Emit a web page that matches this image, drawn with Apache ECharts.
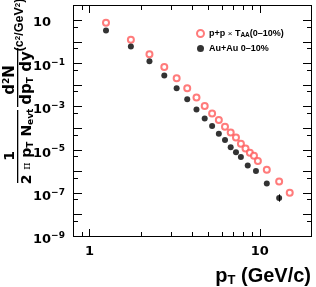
<!DOCTYPE html>
<html><head><meta charset="utf-8">
<script src="https://cdn.jsdelivr.net/npm/echarts@6/dist/echarts.min.js"></script>
<style>html,body{margin:0;padding:0;background:#fff}#c{width:316px;height:287px}</style>
</head><body><div id="c"></div>
<script>
// ---- data ----
const ppPt  = [1.25,1.75,2.25,2.75,3.25,3.75,4.25,4.75,5.25,5.75,6.25,6.75,7.25,7.75,8.25,8.75,9.25,9.75,11,13,15];
const ppVal = [7.5,1.22,0.261,0.068,0.020,6.97e-3,2.58e-3,1.04e-3,4.69e-4,2.34e-4,1.14e-4,6.19e-5,3.63e-5,1.87e-5,1.12e-5,7.11e-6,5.16e-6,2.97e-6,1.17e-6,3.33e-7,1.01e-7];
const auPt  = [1.25,1.75,2.25,2.75,3.25,3.75,4.25,4.75,5.25,5.75,6.25,6.75,7.25,7.75,8.5,9.5,11,13];
const auVal = [3.33,0.606,0.124,0.0275,6.89e-3,2.15e-3,7.18e-4,2.75e-4,1.24e-4,5.45e-5,2.78e-5,1.29e-5,7.5e-6,4.54e-6,1.84e-6,1.02e-6,2.7e-7,5.74e-8];
const auErrLow  = [null,null,null,null,null,null,null,null,null,null,null,null,null,null,null,null,null,3.9e-8];
const auErrHigh = [null,null,null,null,null,null,null,null,null,null,null,null,null,null,null,null,null,8.5e-8];
const xRange = [0.8, 20];
const yRange = [1e-9, 50];
const xMajorTicks = [1,10];
const xMinorTicks = [0.9,2,3,4,5,6,7,8,9];
const yMajorTicks = [1e-9,1e-8,1e-7,1e-6,1e-5,1e-4,1e-3,1e-2,1e-1,1,10];
const yMinorTicks = [5e-9,5e-8,5e-7,5e-6,5e-5,5e-4,5e-3,5e-2,0.5,5];
const xLabelTicks = [1,10];
const yLabelTicks = [1e-9,1e-7,1e-5,1e-3,1e-1,10];

const FONT = 'Liberation Sans, Arial, Helvetica, sans-serif';
const WFONT = 'DejaVu Sans, sans-serif';
const chart = echarts.init(document.getElementById('c'), null, {renderer:'canvas'});

const px = v => Math.round(v) + 0.5;

const option = {
  animation:false,
  backgroundColor:'#fff',
  grid:{left:73, top:5, right:5, bottom:51, containLabel:false},
  xAxis:{type:'log', logBase:10, min:xRange[0], max:xRange[1],
    axisLine:{show:false}, axisTick:{show:false}, splitLine:{show:false}, minorTick:{show:false},
    axisLabel:{show:true, customValues:xLabelTicks, margin:9, color:'#000', fontFamily:WFONT, fontWeight:'bold', fontSize:13,
      formatter: v => String(Math.round(v))} },
  yAxis:{type:'log', logBase:10, min:yRange[0], max:yRange[1],
    axisLine:{show:false}, axisTick:{show:false}, splitLine:{show:false}, minorTick:{show:false},
    axisLabel:{show:true, customValues:yLabelTicks, margin:40, align:'left', verticalAlign:'middle', color:'#000',
      padding:[5,0,0,0],
      formatter: v => { const e = Math.round(Math.log10(v)); return e===1 ? '{m|10}' : '{mp|10}{s|\u2212'+(-e)+'}'; },
      rich:{ m:{fontFamily:WFONT, fontWeight:'bold', fontSize:13, lineHeight:15},
             mp:{fontFamily:WFONT, fontWeight:'bold', fontSize:13, lineHeight:15, padding:[4,0,0,0], verticalAlign:'bottom'},
             s:{fontFamily:WFONT, fontWeight:'bold', fontSize:9, lineHeight:9, verticalAlign:'top'} } } },
  legend:{ orient:'vertical', left:196, top:29, padding:0, itemWidth:7, itemHeight:7, itemGap:5,
    data:[{name:'pp', icon:'emptyCircle'},{name:'auau', icon:'circle'}],
    formatter: n => n==='pp' ? '{b|p+p }{x|\u00d7}{b| T}{s|AA}{b|(0\u201310%)}' : '{b|Au+Au 0\u201310%}',
    textStyle:{ rich:{ b:{fontFamily:FONT, fontWeight:'bold', fontSize:9, color:'#000'},
                       x:{fontFamily:FONT, fontSize:8, color:'#000'},
                       s:{fontFamily:FONT, fontWeight:'bold', fontSize:6.5, color:'#000', verticalAlign:'bottom', padding:[4,0,0,0]} } } },
  series:[
    { name:'pp', type:'scatter', symbol:'emptyCircle', symbolSize:6,
      itemStyle:{color:'#ff5a5a', borderColor:'#ff5a5a', borderWidth:1},
      data: ppPt.map((x,i)=>[x, ppVal[i]]) },
    { name:'auau-err', type:'custom', silent:true,
      data: auPt.map((x,i)=>[x, auErrLow[i], auErrHigh[i]]).filter(d=>d[1]!=null),
      renderItem:(params, api)=>{
        const lo = api.coord([api.value(0), api.value(1)]);
        const hi = api.coord([api.value(0), api.value(2)]);
        return {type:'line', shape:{x1:px(lo[0]), y1:lo[1], x2:px(hi[0]), y2:hi[1]}, style:{stroke:'#000', lineWidth:1}};
      } },
    { name:'auau', type:'scatter', symbol:'circle', symbolSize:6,
      itemStyle:{color:'#000'},
      data: auPt.map((x,i)=>[x, auVal[i]]) }
  ]
};
chart.setOption(option);

// frame and axis ticks (thin filled rects), placed through the chart's own log scales
const els = [];
const c00 = chart.convertToPixel({gridIndex:0}, [xRange[0], yRange[0]]);
const c11 = chart.convertToPixel({gridIndex:0}, [xRange[1], yRange[1]]);
const L = Math.round(c00[0]), B = Math.round(c00[1]), R = Math.round(c11[0]), T = Math.round(c11[1]);
const bar = (x, y, w, h) => ({type:'rect', silent:true, z:20, shape:{x:x, y:y, width:w, height:h}, style:{fill:'#000'}});
els.push(bar(L, T, R-L+1, 1), bar(L, B, R-L+1, 1), bar(L, T, 1, B-T+1), bar(R, T, 1, B-T+1));
function addXTicks(vals, len){
  vals.forEach(v => {
    const x = Math.round(chart.convertToPixel({gridIndex:0}, [v, yRange[0]])[0]);
    els.push(bar(x, B-len, 1, len), bar(x, T+1, 1, len));
  });
}
function addYTicks(vals, len){
  vals.forEach(v => {
    const y = Math.round(chart.convertToPixel({gridIndex:0}, [xRange[0], v])[1]);
    els.push(bar(L+1, y, len, 1), bar(R-len, y, len, 1));
  });
}
addXTicks(xMajorTicks, 7); addXTicks(xMinorTicks, 4);
addYTicks(yMajorTicks, 8); addYTicks(yMinorTicks, 4);

// titles
els.push({ type:'text', right:5, bottom:0,
      style:{ text:'{p|p}{t|T}{p| (GeV/c)}', rich:{ p:{fontFamily:FONT, fontWeight:'bold', fontSize:20, fill:'#000'},
              t:{fontFamily:FONT, fontWeight:'bold', fontSize:13, fill:'#000', verticalAlign:'bottom', padding:[8,0,0,0]} } } });
els.push({ type:'group', x:0, y:190, rotation:Math.PI/2, children:[
      { type:'text', x:34, y:10, style:{ text:'1', fontFamily:WFONT, fontWeight:'bold', fontSize:14, fill:'#000', align:'center', verticalAlign:'middle'} },
      { type:'rect', shape:{x:7, y:17, width:73, height:1.3}, style:{fill:'#000'} },
      { type:'text', x:43.5, y:27.5, style:{ text:'{b|2 }{g|\u03c0}{b| p}{t|T}{b| N}{t|evt}', align:'center', verticalAlign:'middle',
          rich:{ b:{fontFamily:WFONT, fontWeight:'bold', fontSize:14, fill:'#000'},
                 g:{fontFamily:'DejaVu Serif, serif', fontSize:11, fill:'#000'},
                 t:{fontFamily:WFONT, fontWeight:'bold', fontSize:9, fill:'#000', verticalAlign:'bottom', padding:[6,0,0,0]} } } },
      { type:'text', x:110, y:10, style:{ text:'{b|d}{u|2}{b|N}', align:'center', verticalAlign:'middle',
          rich:{ b:{fontFamily:WFONT, fontWeight:'bold', fontSize:15, fill:'#000'},
                 u:{fontFamily:WFONT, fontWeight:'bold', fontSize:9, fill:'#000', verticalAlign:'top', padding:[0,0,6,0]} } } },
      { type:'rect', shape:{x:83, y:17, width:59, height:1.3}, style:{fill:'#000'} },
      { type:'text', x:112, y:27.5, style:{ text:'{b|dp}{t|T}{b| dy}', align:'center', verticalAlign:'middle',
          rich:{ b:{fontFamily:WFONT, fontWeight:'bold', fontSize:15, fill:'#000'},
                 t:{fontFamily:WFONT, fontWeight:'bold', fontSize:9, fill:'#000', verticalAlign:'bottom', padding:[6,0,0,0]} } } },
      { type:'text', x:165, y:20, style:{ text:'{b|(c}{u|2}{b|/GeV}{u|2}{b|)}', align:'center', verticalAlign:'middle',
          rich:{ b:{fontFamily:FONT, fontWeight:'bold', fontSize:12.5, fill:'#000'},
                 u:{fontFamily:FONT, fontWeight:'bold', fontSize:8, fill:'#000', verticalAlign:'top', padding:[0,0,5,0]} } } }
    ]});
chart.setOption({graphic: els});
</script></body></html>
